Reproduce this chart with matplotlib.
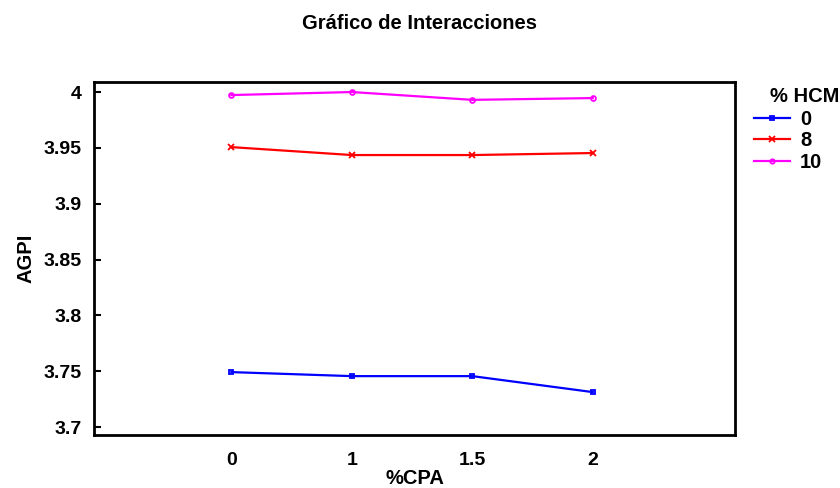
import matplotlib
matplotlib.use("Agg")
import matplotlib.pyplot as plt

plt.rcParams['font.family'] = ['Liberation Sans', 'DejaVu Sans']
plt.rcParams['font.weight'] = 'bold'

categories = ["0", "1", "1.5", "2"]
series_names = ["0", "8", "10"]
hcm0 = [3.7493, 3.7457, 3.7457, 3.7314]
hcm8 = [3.9507, 3.9436, 3.9436, 3.9454]
hcm10 = [3.9973, 4.0000, 3.9930, 3.9946]
yticks = [3.7, 3.75, 3.8, 3.85, 3.9, 3.95, 4.0]
ytick_labels = ["3.7", "3.75", "3.8", "3.85", "3.9", "3.95", "4"]

fig = plt.figure(figsize=(8.4, 4.88), dpi=100)
ax = fig.add_axes([0.1119, 0.1086, 0.7631, 0.7234])

x = list(range(len(categories)))
ax.plot(x, hcm0, color='#0000ff', lw=1.6, marker='s', ms=3.2, mfc='none', mew=1.3, label=series_names[0])
ax.plot(x, hcm8, color='#ff0000', lw=1.6, marker='x', ms=5, mew=1.3, label=series_names[1])
ax.plot(x, hcm10, color='#ff00ff', lw=1.6, marker='o', ms=3.5, mfc='none', mew=1.3, label=series_names[2])

ax.set_xlim(-1.14, 4.18)
ax.set_ylim(3.693, 4.009)
ax.set_xticks(x)
ax.set_xticklabels(categories)
ax.set_yticks(yticks)
ax.set_yticklabels(ytick_labels)
ax.tick_params(axis='x', length=0, labelsize=14, pad=12)
ax.tick_params(axis='y', direction='in', length=5, width=1.5, labelsize=14, pad=9)
for s in ax.spines.values():
    s.set_linewidth(2)

ax.set_xlabel("%CPA", fontsize=14.5, fontweight='bold', labelpad=0)
ax.set_ylabel("AGPI", fontsize=14.5, fontweight='bold', labelpad=6)
fig.text(0.5, 0.952, "Gráfico de Interacciones", ha='center', va='center', fontsize=14.5, fontweight='bold')

leg = ax.legend(loc='upper left', bbox_to_anchor=(1.0296, 0.921), frameon=False,
                fontsize=14.5, handlelength=1.79, handletextpad=0.5,
                borderaxespad=0, borderpad=0, labelspacing=0.13, markerscale=0.9)
for t in leg.get_texts():
    t.set_fontweight('bold')
fig.text(805 / 840, 1 - 97 / 488, "% HCM", ha='center', va='center', fontsize=14.5, fontweight='bold')

fig.savefig("out.png", dpi=100)
